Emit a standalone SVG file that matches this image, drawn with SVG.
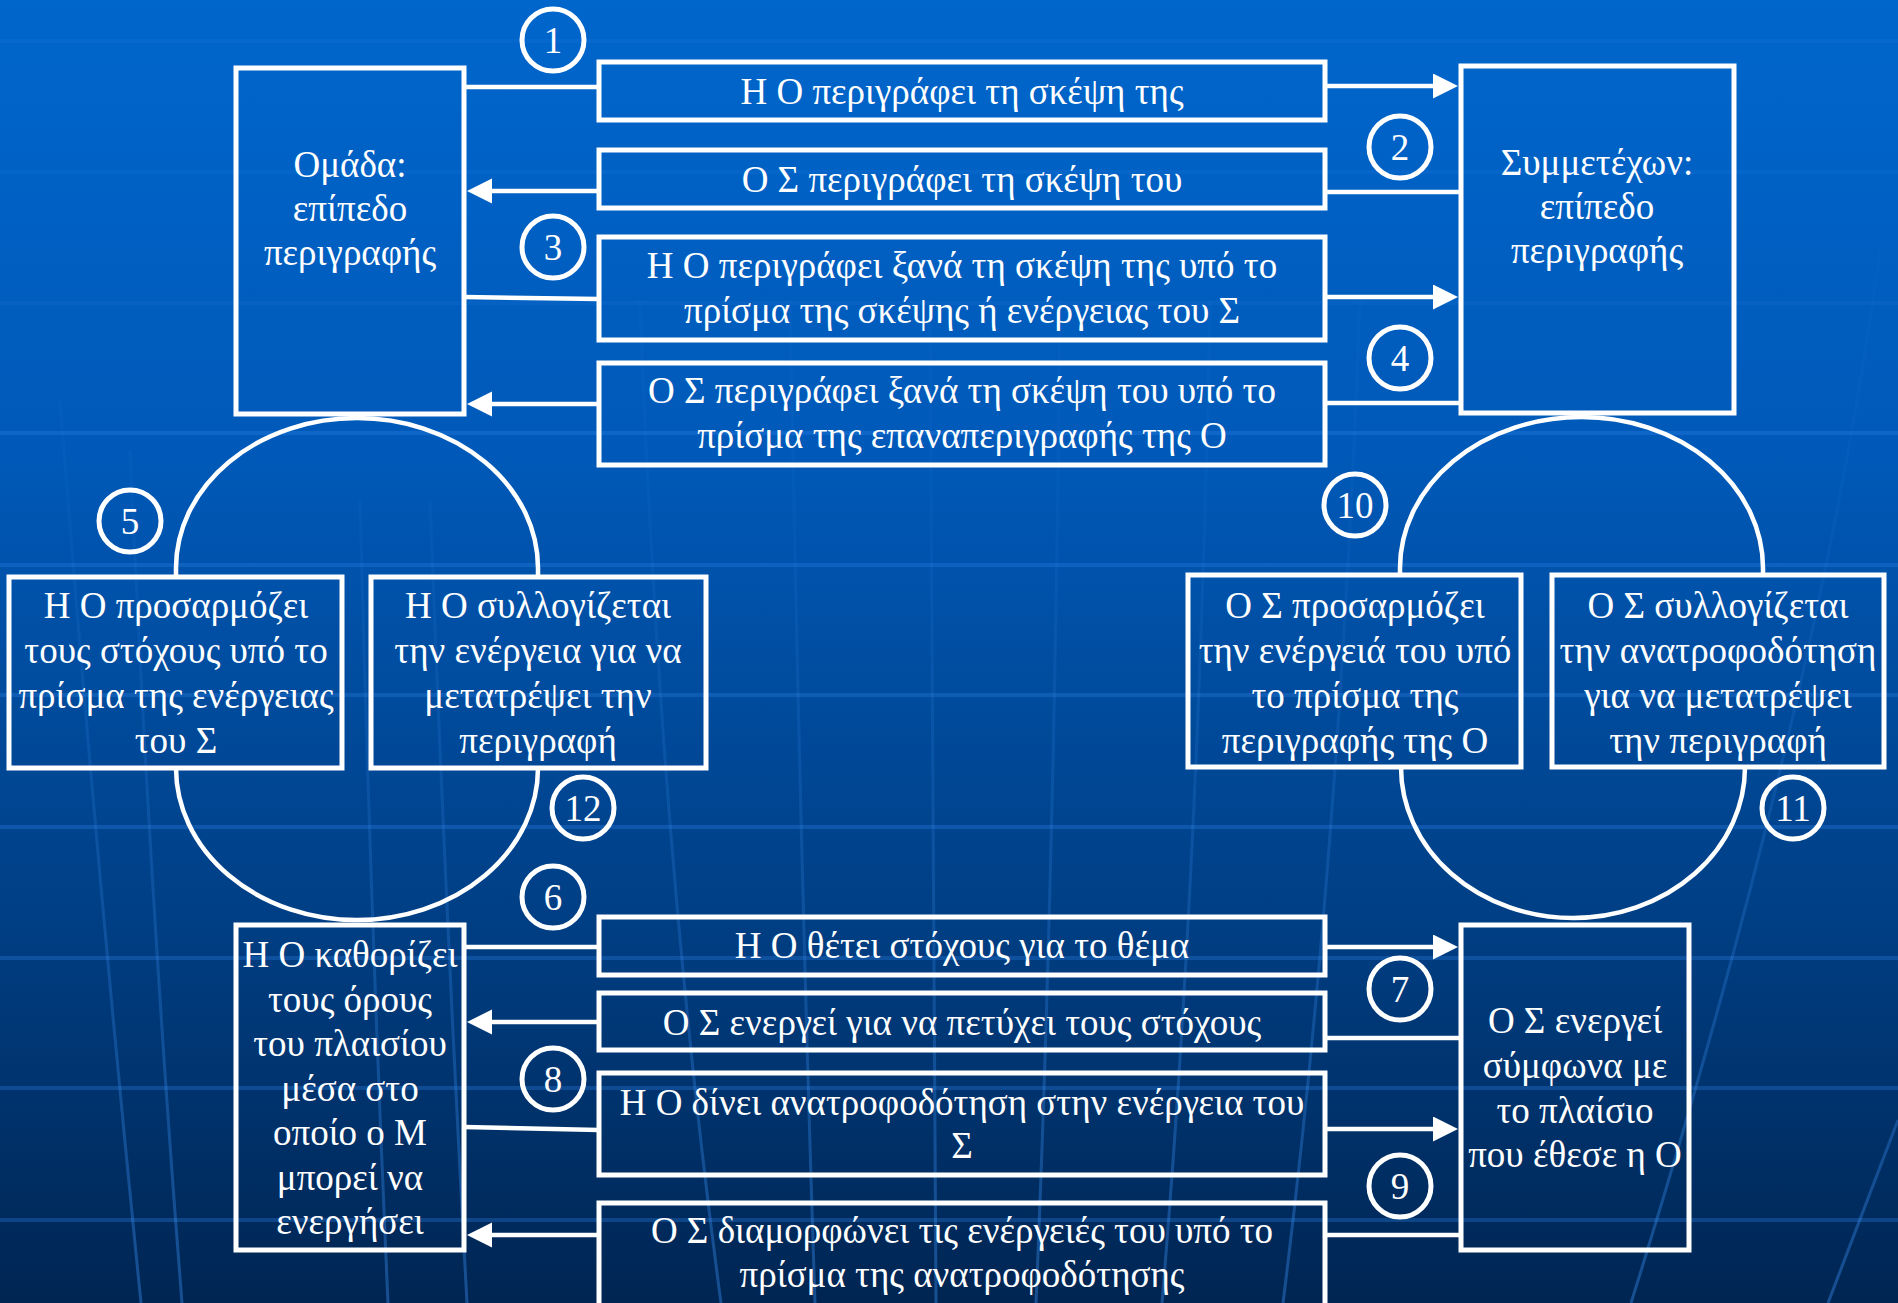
<svg xmlns="http://www.w3.org/2000/svg" width="1898" height="1303" viewBox="0 0 1898 1303">
<defs>
<linearGradient id="bg" x1="0" y1="0" x2="0" y2="1303" gradientUnits="userSpaceOnUse">
<stop offset="0" stop-color="#0066CC"/>
<stop offset="0.35" stop-color="#0059B8"/>
<stop offset="0.7" stop-color="#003F85"/>
<stop offset="1" stop-color="#002552"/>
</linearGradient>
<linearGradient id="mer" x1="0" y1="0" x2="0" y2="1303" gradientUnits="userSpaceOnUse">
<stop offset="0" stop-color="#3a8ef0" stop-opacity="0"/>
<stop offset="0.4" stop-color="#3a8ef0" stop-opacity="0.07"/>
<stop offset="1" stop-color="#3a8ef0" stop-opacity="0.4"/>
</linearGradient>
<marker id="ah" markerUnits="userSpaceOnUse" markerWidth="26" markerHeight="26" refX="0" refY="12.5" orient="auto">
<path d="M0,0 L25,12.5 L0,25 Z" fill="#fff"/>
</marker>
<style>
.box{fill:none;stroke:#fff;stroke-width:5}
.t{font-family:"Liberation Serif","Times New Roman",serif;font-size:37px;fill:#fff;text-anchor:middle}
.num{fill:none;stroke:#fff;stroke-width:5}
.ln{fill:none;stroke:#fff;stroke-width:4.5}
.arr{fill:none;stroke:#fff;stroke-width:4.5;marker-end:url(#ah)}
.grid{fill:none;stroke:#2f86ea;stroke-opacity:0.3;stroke-width:4}
.gridfaint{fill:none;stroke:#2f86ea;stroke-opacity:0.12;stroke-width:4}
.mer{fill:none;stroke:url(#mer);stroke-width:3}
</style>
</defs>
<rect x="0" y="0" width="1898" height="1303" fill="url(#bg)"/>
<g id="background-grid">
<path class="gridfaint" d="M0,41H1898M0,172H1898M0,303H1898"/>
<path class="grid" d="M0,433H1898M0,565H1898M0,695H1898M0,827H1898M0,958H1898M0,1088H1898M0,1220H1898"/>
<path class="mer" d="M60,400 Q95,850 141,1303"/>
<path class="mer" d="M130,450 Q150,900 182,1303"/>
<path class="mer" d="M360,500 Q370,900 388,1303"/>
<path class="mer" d="M430,500 Q445,900 467,1303"/>
<path class="mer" d="M640,300 Q660,850 721,1303"/>
<path class="mer" d="M790,300 Q800,850 815,1303"/>
<path class="mer" d="M930,300 Q932,850 936,1303"/>
<path class="mer" d="M1060,300 Q1055,850 1036,1303"/>
<path class="mer" d="M1210,300 Q1200,850 1162,1303"/>
<path class="mer" d="M1360,300 Q1340,850 1283,1303"/>
<path class="mer" d="M1880,250 Q1820,700 1631,1303"/>
<path class="mer" d="M1898,1120 Q1860,1220 1828,1303"/>
</g>
<g id="connectors">
<path class="ln" d="M464,87H599"/>
<path class="arr" d="M1325,86H1433"/>
<path class="ln" d="M1461,192H1325"/>
<path class="arr" d="M599,191H492"/>
<path class="ln" d="M464,297L599,299"/>
<path class="arr" d="M1325,297H1433"/>
<path class="ln" d="M1461,403H1325"/>
<path class="arr" d="M599,404H492"/>
<path class="ln" d="M464,947H599"/>
<path class="arr" d="M1325,947H1433"/>
<path class="ln" d="M1461,1038H1325"/>
<path class="arr" d="M599,1022H492"/>
<path class="ln" d="M464,1127L599,1130"/>
<path class="arr" d="M1325,1129H1433"/>
<path class="ln" d="M1461,1235H1325"/>
<path class="arr" d="M599,1235H492"/>
<path class="ln" d="M176,577V568A181,150 0 0 1 538,568V577"/>
<path class="ln" d="M538,768A181,152 0 0 1 176,768"/>
<path class="ln" d="M1400,575V568A181.5,151 0 0 1 1763,568V575"/>
<path class="ln" d="M1745,767A172,151 0 0 1 1401,767"/>
</g>
<g id="n-omada">
<rect class="box" x="236" y="68" width="228" height="346"/>
<text class="t"><tspan x="350" y="177">Ομάδα:</tspan><tspan x="350" y="221">επίπεδο</tspan><tspan x="350" y="265">περιγραφής</tspan></text>
</g>
<g id="n-symmetexon">
<rect class="box" x="1461" y="66" width="273" height="347"/>
<text class="t"><tspan x="1597" y="175">Συμμετέχων:</tspan><tspan x="1597" y="219">επίπεδο</tspan><tspan x="1597" y="263">περιγραφής</tspan></text>
</g>
<g id="n-step1">
<rect class="box" x="599" y="62" width="726" height="58"/>
<text class="t" x="962" y="104">Η Ο περιγράφει τη σκέψη της</text>
</g>
<g id="n-step2">
<rect class="box" x="599" y="150" width="726" height="58"/>
<text class="t" x="962" y="192">Ο Σ περιγράφει τη σκέψη του</text>
</g>
<g id="n-step3">
<rect class="box" x="599" y="237" width="726" height="103"/>
<text class="t"><tspan x="962" y="278">Η Ο περιγράφει ξανά τη σκέψη της υπό το</tspan><tspan x="962" y="323">πρίσμα της σκέψης ή ενέργειας του Σ</tspan></text>
</g>
<g id="n-step4">
<rect class="box" x="599" y="363" width="726" height="102"/>
<text class="t"><tspan x="962" y="403">Ο Σ περιγράφει ξανά τη σκέψη του υπό το</tspan><tspan x="962" y="448">πρίσμα της επαναπεριγραφής της Ο</tspan></text>
</g>
<g id="n-step5">
<rect class="box" x="9" y="577" width="333" height="191"/>
<text class="t"><tspan x="176" y="618">Η Ο προσαρμόζει</tspan><tspan x="176" y="663">τους στόχους υπό το</tspan><tspan x="176" y="708">πρίσμα της ενέργειας</tspan><tspan x="176" y="753">του Σ</tspan></text>
</g>
<g id="n-step12">
<rect class="box" x="371" y="577" width="335" height="191"/>
<text class="t"><tspan x="538" y="618">Η Ο συλλογίζεται</tspan><tspan x="538" y="663">την ενέργεια για να</tspan><tspan x="538" y="708">μετατρέψει την</tspan><tspan x="538" y="753">περιγραφή</tspan></text>
</g>
<g id="n-step10">
<rect class="box" x="1188" y="575" width="333" height="192"/>
<text class="t"><tspan x="1355" y="618">Ο Σ προσαρμόζει</tspan><tspan x="1355" y="663">την ενέργειά του υπό</tspan><tspan x="1355" y="708">το πρίσμα της</tspan><tspan x="1355" y="753">περιγραφής της Ο</tspan></text>
</g>
<g id="n-step11">
<rect class="box" x="1552" y="575" width="332" height="192"/>
<text class="t"><tspan x="1718" y="618">Ο Σ συλλογίζεται</tspan><tspan x="1718" y="663">την ανατροφοδότηση</tspan><tspan x="1718" y="708">για να μετατρέψει</tspan><tspan x="1718" y="753">την περιγραφή</tspan></text>
</g>
<g id="n-framing">
<rect class="box" x="236" y="925" width="228" height="325"/>
<text class="t"><tspan x="350" y="967">Η Ο καθορίζει</tspan><tspan x="350" y="1011.5">τους όρους</tspan><tspan x="350" y="1056">του πλαισίου</tspan><tspan x="350" y="1100.5">μέσα στο</tspan><tspan x="350" y="1145">οποίο ο Μ</tspan><tspan x="350" y="1189.5">μπορεί να</tspan><tspan x="350" y="1234">ενεργήσει</tspan></text>
</g>
<g id="n-acting">
<rect class="box" x="1461" y="925" width="228" height="325"/>
<text class="t"><tspan x="1575" y="1033">Ο Σ ενεργεί</tspan><tspan x="1575" y="1078">σύμφωνα με</tspan><tspan x="1575" y="1123">το πλαίσιο</tspan><tspan x="1575" y="1167">που έθεσε η Ο</tspan></text>
</g>
<g id="n-step6">
<rect class="box" x="599" y="917" width="726" height="58"/>
<text class="t" x="962" y="958">Η Ο θέτει στόχους για το θέμα</text>
</g>
<g id="n-step7">
<rect class="box" x="599" y="993" width="726" height="57"/>
<text class="t" x="962" y="1035">Ο Σ ενεργεί για να πετύχει τους στόχους</text>
</g>
<g id="n-step8">
<rect class="box" x="599" y="1073" width="726" height="102"/>
<text class="t"><tspan x="962" y="1115">Η Ο δίνει ανατροφοδότηση στην ενέργεια του</tspan><tspan x="962" y="1158">Σ</tspan></text>
</g>
<g id="n-step9">
<rect class="box" x="599" y="1203" width="726" height="140"/>
<text class="t"><tspan x="962" y="1243">Ο Σ διαμορφώνει τις ενέργειές του υπό το</tspan><tspan x="962" y="1287">πρίσμα της ανατροφοδότησης</tspan></text>
</g>
<g id="step-numbers">
<g id="num1"><circle class="num" cx="553" cy="40" r="31"/><text class="t" x="553" y="52.5">1</text></g>
<g id="num2"><circle class="num" cx="1400" cy="147" r="31"/><text class="t" x="1400" y="159.5">2</text></g>
<g id="num3"><circle class="num" cx="553" cy="247" r="31"/><text class="t" x="553" y="259.5">3</text></g>
<g id="num4"><circle class="num" cx="1400" cy="358" r="31"/><text class="t" x="1400" y="370.5">4</text></g>
<g id="num5"><circle class="num" cx="130" cy="521" r="31"/><text class="t" x="130" y="533.5">5</text></g>
<g id="num6"><circle class="num" cx="553" cy="897" r="31"/><text class="t" x="553" y="909.5">6</text></g>
<g id="num7"><circle class="num" cx="1400" cy="989" r="31"/><text class="t" x="1400" y="1001.5">7</text></g>
<g id="num8"><circle class="num" cx="553" cy="1079" r="31"/><text class="t" x="553" y="1091.5">8</text></g>
<g id="num9"><circle class="num" cx="1400" cy="1186" r="31"/><text class="t" x="1400" y="1198.5">9</text></g>
<g id="num10"><circle class="num" cx="1355" cy="505" r="31"/><text class="t" x="1355" y="517.5">10</text></g>
<g id="num11"><circle class="num" cx="1793" cy="808" r="31"/><text class="t" x="1793" y="820.5">11</text></g>
<g id="num12"><circle class="num" cx="583" cy="808" r="31"/><text class="t" x="583" y="820.5">12</text></g>
</g>
</svg>
